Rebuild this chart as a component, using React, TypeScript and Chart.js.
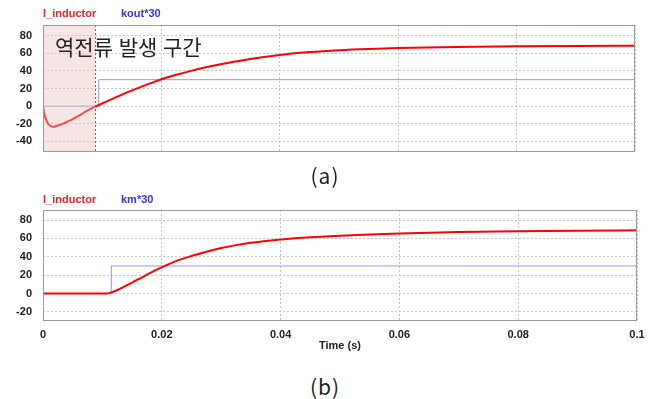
import React, { useEffect, useRef } from "react";
import { Chart, registerables } from "chart.js";
Chart.register(...registerables);

// ---- data ----
const timeTicks = [0, 0.02, 0.04, 0.06, 0.08, 0.1];
const yTicksA = [-40, -20, 0, 20, 40, 60, 80];
const yTicksB = [-20, 0, 20, 40, 60, 80];

// (a) inductor current with reverse-current interval
const tA = [0, 0.0002, 0.0004, 0.0007, 0.001, 0.0017, 0.0025, 0.0035, 0.0043, 0.0051, 0.006, 0.0068, 0.0078, 0.009, 0.0105, 0.012, 0.014, 0.016, 0.018, 0.02, 0.0225, 0.025, 0.0275, 0.03, 0.0325, 0.035, 0.04, 0.045, 0.05, 0.055, 0.06, 0.07, 0.08, 0.09, 0.1];
const iA = [0, -8, -13, -18, -21, -23.5, -22, -19.5, -17, -14.5, -11, -7.8, -4, 0, 4.5, 9, 15, 20.5, 25.5, 30.5, 35.5, 40, 44, 47.5, 50.5, 53.5, 58, 61.3, 63.5, 64.9, 65.8, 67, 67.8, 68.3, 68.6];
const koutT = [0, 0.0094, 0.0094, 0.1];
const koutV = [0, 0, 30, 30];
const reverseInterval = [0, 0.0088];

// (b)
const tB = [0, 0.0107, 0.0115, 0.0125, 0.0135, 0.015, 0.0165, 0.018, 0.0195, 0.021, 0.0225, 0.025, 0.0275, 0.03, 0.0325, 0.035, 0.0375, 0.04, 0.045, 0.05, 0.055, 0.06, 0.07, 0.08, 0.09, 0.1];
const iB = [0, 0, 1.2, 3.8, 7, 11.8, 17, 22.2, 27, 31.5, 35.5, 40.8, 45.5, 49.5, 52.7, 55.2, 57.2, 58.8, 61.2, 63, 64.4, 65.4, 66.9, 67.8, 68.4, 68.8];
const kmT = [0, 0.0115, 0.0115, 0.1];
const kmV = [0, 0, 30, 30];

const labelsA = ["I_inductor", "kout*30"];
const labelsB = ["I_inductor", "km*30"];

const RED = "#ff0000";
const BLUE = "#9696f0";
const GRID = "#c8c8c8";
const TICK_FONT = { family: "'Liberation Sans', Arial, sans-serif", size: 11, weight: "bold" as const };

const pts = (xs: number[], ys: number[]) => xs.map((x, i) => ({ x, y: ys[i] }));

const frame = {
  id: "frame",
  afterDraw(chart: any) {
    const { ctx, chartArea: a } = chart;
    ctx.save();
    ctx.strokeStyle = "#9a9a9a";
    ctx.lineWidth = 1;
    ctx.strokeRect(Math.round(a.left) + 0.5, Math.round(a.top) + 0.5, Math.round(a.right - a.left) - 1, Math.round(a.bottom - a.top) - 1);
    ctx.restore();
  },
};

const shade = {
  id: "shade",
  afterDatasetsDraw(chart: any) {
    const { ctx, chartArea: a, scales } = chart;
    const x0 = scales.x.getPixelForValue(reverseInterval[0]);
    const x1 = scales.x.getPixelForValue(reverseInterval[1]);
    ctx.save();
    ctx.fillStyle = "rgba(235,190,190,0.4)";
    ctx.fillRect(x0, a.top, x1 - x0, a.bottom - a.top);
    ctx.strokeStyle = "#b84848";
    ctx.lineWidth = 1;
    ctx.setLineDash([2, 2]);
    ctx.beginPath();
    ctx.moveTo(Math.round(x1) + 0.5, a.top);
    ctx.lineTo(Math.round(x1) + 0.5, a.bottom);
    ctx.stroke();
    ctx.restore();
  },
};

function makeConfig(
  redT: number[], redV: number[], blueT: number[], blueV: number[],
  yTicks: number[], yMin: number, yMax: number, showX: boolean, xAxisH: number, rightPad: number, plugins: any[]
): any {
  return {
    type: "line",
    data: {
      datasets: [
        { data: pts(redT, redV), borderColor: RED, borderWidth: 2, pointRadius: 0, cubicInterpolationMode: "monotone", order: 0 },
        { data: pts(blueT, blueV), borderColor: BLUE, borderWidth: 1, pointRadius: 0, order: 1 },
      ],
    },
    options: {
      responsive: false,
      animation: false,
      devicePixelRatio: 1,
      layout: { padding: { top: 25, right: rightPad, left: 0, bottom: 0 } },
      plugins: { legend: { display: false }, tooltip: { enabled: false } },
      scales: {
        x: {
          type: "linear",
          min: 0,
          max: 0.1,
          afterBuildTicks: (s: any) => { s.ticks = timeTicks.map((v) => ({ value: v })); },
          afterFit: (s: any) => { s.height = xAxisH; },
          grid: { color: GRID, lineWidth: 1, drawTicks: false },
          border: { display: false, dash: [2, 2] },
          ticks: {
            display: showX,
            autoSkip: false,
            maxRotation: 0,
            padding: 7,
            color: "#222",
            font: TICK_FONT,
            callback: (v: number) => String(Number(v.toFixed(2))),
          },
          title: {
            display: showX,
            text: "Time (s)",
            color: "#222",
            font: TICK_FONT,
            padding: { top: 0, bottom: 7 },
          },
        },
        y: {
          type: "linear",
          min: yMin,
          max: yMax,
          afterBuildTicks: (s: any) => { s.ticks = yTicks.map((v) => ({ value: v })); },
          afterFit: (s: any) => { s.width = 43; },
          grid: { color: GRID, lineWidth: 1, drawTicks: false },
          border: { display: false, dash: [2, 2] },
          ticks: { padding: 11, color: "#222", font: TICK_FONT },
        },
      },
    },
    plugins,
  };
}

function Panel({ config, top, height }: { config: any; top: number; height: number }) {
  const ref = useRef<HTMLCanvasElement>(null);
  useEffect(() => {
    const chart = new Chart(ref.current!, config);
    return () => chart.destroy();
  }, []);
  return (
    <canvas ref={ref} width={657} height={height} style={{ position: "absolute", left: 0, top, width: 657, height }} />
  );
}

const legendStyle = (left: number, top: number, color: string): React.CSSProperties => ({
  position: "absolute",
  left,
  top,
  color,
  fontFamily: "'Liberation Sans', Arial, sans-serif",
  fontWeight: "bold",
  fontSize: 11,
  lineHeight: "12px",
  whiteSpace: "nowrap",
});

const captionStyle = (top: number): React.CSSProperties => ({
  position: "absolute",
  left: 0,
  width: 650,
  top,
  textAlign: "center",
  fontFamily: "'Noto Sans CJK KR', sans-serif",
  fontSize: 21,
  lineHeight: "22px",
  letterSpacing: 1,
  color: "#222",
});

export default function App() {
  const cfgA = makeConfig(tA, iA, koutT, koutV, yTicksA, -52, 92, false, 18, 22, [frame, shade]);
  const cfgB = makeConfig(tB, iB, kmT, kmV, yTicksB, -30, 91, true, 39, 20, [frame]);
  return (
    <div style={{ position: "absolute", left: 0, top: 0, width: 657, height: 399, background: "#fff", overflow: "hidden" }}>
      <Panel config={cfgA} top={0} height={170} />
      <Panel config={cfgB} top={185} height={175} />
      <div style={legendStyle(43, 7, "#ee2222")}>{labelsA[0]}</div>
      <div style={legendStyle(121, 7, "#3333ee")}>{labelsA[1]}</div>
      <div style={legendStyle(43, 193, "#ee2222")}>{labelsB[0]}</div>
      <div style={legendStyle(121, 193, "#3333ee")}>{labelsB[1]}</div>
      <div
        style={{
          position: "absolute",
          left: 55,
          top: 34,
          fontFamily: "'Noto Sans CJK KR', sans-serif",
          fontSize: 21,
          lineHeight: "24px",
          wordSpacing: 1,
          color: "#222",
          whiteSpace: "nowrap",
        }}
      >
        역전류 발생 구간
      </div>
      <div style={captionStyle(164)}>(a)</div>
      <div style={captionStyle(375)}>(b)</div>
    </div>
  );
}
